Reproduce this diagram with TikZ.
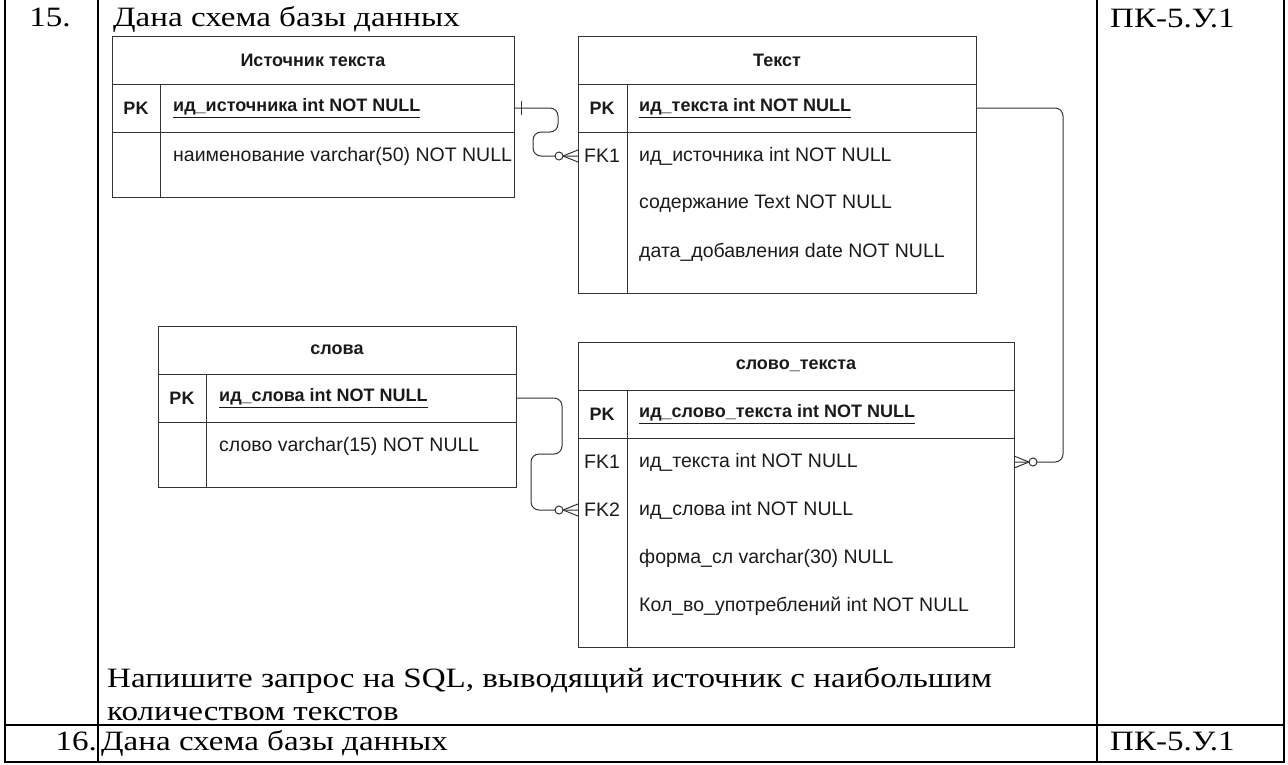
\documentclass[tikz,border=0pt]{standalone}
\usepackage{fontspec}
\setmainfont{Liberation Serif}[FakeStretch=1.18]
\newfontfamily\erfont{Liberation Sans}
\usepackage{xcolor}
\usepackage{tikz}

\definecolor{erline}{HTML}{333333}
\definecolor{ertext}{HTML}{1A1A1A}
\newcommand{\docsize}{\fontsize{28}{33}\selectfont}
\newcommand{\ersize}{\erfont\fontsize{18}{22}\selectfont}
\newcommand{\erfieldsize}{\erfont\fontsize{19.5}{22}\selectfont}

\tikzset{
  erbox/.style={draw=erline, line width=1pt, rectangle, inner sep=0pt, outer sep=0pt},
  erhead/.style={erbox, minimum height=48pt, font=\ersize\bfseries, text=ertext},
  errow/.style={erbox, minimum height=48pt},
  keylbl/.style={font=\ersize\bfseries, text=ertext},
  fklbl/.style={font=\erfieldsize, text=ertext},
  pkfield/.style={anchor=west, inner sep=0pt, font=\ersize\bfseries, text=ertext},
  field/.style={anchor=west, inner sep=0pt, font=\erfieldsize, text=ertext},
  rel/.style={draw=erline, line width=1pt, rounded corners=8pt},
  frame/.style={line width=1.5pt},
  doctext/.style={font=\docsize, inner sep=0pt}
}

\begin{document}
\begin{tikzpicture}[x=1pt, y=-1pt]
\useasboundingbox (0,0) rectangle (1288,764);

% outer table
\draw[frame] (5,0) -- (5,762) -- (1284,762) -- (1284,0);
\draw[frame] (98,0) -- (98,762);
\draw[frame] (1097,0) -- (1097,762);
\draw[frame] (5,725) -- (1284,725);

\node[doctext, anchor=base] (n15) at (50,26) {15.};
\node[doctext, anchor=base west] (task15) at (113,26) {Дана схема базы данных};
\node[doctext, anchor=base west] (code15) at (1110,27) {ПК-5.У.1};
\node[doctext, anchor=base west, align=left] (query) at (107,720)
  {Напишите запрос на SQL, выводящий источник с наибольшим\\количеством текстов};
\node[doctext, anchor=base east] (n16) at (97,750) {16.};
\node[doctext, anchor=base west] (task16) at (101,750) {Дана схема базы данных};
\node[doctext, anchor=base west] (code16) at (1110,750) {ПК-5.У.1};

% Источник текста
\node[erhead, minimum width=402pt] (src-head) at (313,60) {Источник текста};
\node[errow, minimum width=402pt] (src-pk) at (313,108) {};
\node[erbox, minimum width=402pt, minimum height=65pt] (src-body) at (313,164.5) {};
\draw[erline, line width=1pt] ([xshift=48pt]src-pk.north west) -- ([xshift=48pt]src-body.south west);
\node[keylbl] (src-pk-key) at (136,108) {PK};
\node[pkfield] (src-pk-f) at (173,108) {\underline{ид\_источника int NOT NULL}};
\node[field] (src-f1) at (173,156) {наименование varchar(50) NOT NULL};

% Текст
\node[erhead, minimum width=398pt] (txt-head) at (777,60) {Текст};
\node[errow, minimum width=398pt] (txt-pk) at (777,108) {};
\node[erbox, minimum width=398pt, minimum height=161pt] (txt-body) at (777,212.5) {};
\draw[erline, line width=1pt] ([xshift=49pt]txt-pk.north west) -- ([xshift=49pt]txt-body.south west);
\node[keylbl] (txt-pk-key) at (602,108) {PK};
\node[pkfield] (txt-pk-f) at (639,108) {\underline{ид\_текста int NOT NULL}};
\node[fklbl] (txt-fk1-key) at (602,156) {FK1};
\node[field] (txt-f1) at (639,156) {ид\_источника int NOT NULL};
\node[field] (txt-f2) at (639,204) {содержание Text NOT NULL};
\node[field] (txt-f3) at (639,252) {дата\_добавления date NOT NULL};

% слова
\node[erhead, minimum width=358pt] (wrd-head) at (337,350) {слова};
\node[errow, minimum width=358pt] (wrd-pk) at (337,398) {};
\node[erbox, minimum width=358pt, minimum height=65pt] (wrd-body) at (337,454.5) {};
\draw[erline, line width=1pt] ([xshift=48pt]wrd-pk.north west) -- ([xshift=48pt]wrd-body.south west);
\node[keylbl] (wrd-pk-key) at (182,398) {PK};
\node[pkfield] (wrd-pk-f) at (219,398) {\underline{ид\_слова int NOT NULL}};
\node[field] (wrd-f1) at (219,446) {слово varchar(15) NOT NULL};

% слово_текста
\node[erhead, minimum width=436pt] (wt-head) at (796,366) {слово\_текста};
\node[errow, minimum width=436pt] (wt-pk) at (796,414) {};
\node[erbox, minimum width=436pt, minimum height=209pt] (wt-body) at (796,542.5) {};
\draw[erline, line width=1pt] ([xshift=49pt]wt-pk.north west) -- ([xshift=49pt]wt-body.south west);
\node[keylbl] (wt-pk-key) at (602,414) {PK};
\node[pkfield] (wt-pk-f) at (639,414) {\underline{ид\_слово\_текста int NOT NULL}};
\node[fklbl] (wt-fk1-key) at (602,462) {FK1};
\node[fklbl] (wt-fk2-key) at (602,510) {FK2};
\node[field] (wt-f1) at (639,462) {ид\_текста int NOT NULL};
\node[field] (wt-f2) at (639,510) {ид\_слова int NOT NULL};
\node[field] (wt-f3) at (639,558) {форма\_сл varchar(30) NULL};
\node[field] (wt-f4) at (639,606) {Кол\_во\_употреблений int NOT NULL};

% relationship ends
\coordinate (txt-fk1-in) at (txt-body.west |- txt-f1);
\coordinate (wt-fk2-in) at (wt-body.west |- wt-f2);
\coordinate (wt-fk1-in) at (wt-body.east |- wt-f1);

% relationships
\draw[rel] (src-pk.east) -- ++(44,0) -- ++(0,24) -- ++(-25,0) |- (txt-fk1-in);
\draw[rel] (wrd-pk.east) -- ++(46,0) -- ++(0,56) -- ++(-31,0) |- (wt-fk2-in);
\draw[rel] (txt-pk.east) -- ++(87,0) |- (wt-fk1-in);

% one
\draw[erline, line width=1pt] ([xshift=7pt,yshift=-7pt]src-pk.east) -- ([xshift=7pt,yshift=7pt]src-pk.east);

% zero or many
\draw[erline, line width=1pt] ([xshift=-15pt]txt-fk1-in) -- ([yshift=6pt]txt-fk1-in)
  ([xshift=-15pt]txt-fk1-in) -- ([yshift=-6pt]txt-fk1-in);
\draw[erline, line width=1pt, fill=white] ([xshift=-19pt]txt-fk1-in) circle[radius=4pt];
\draw[erline, line width=1pt] ([xshift=-15pt]wt-fk2-in) -- ([yshift=6pt]wt-fk2-in)
  ([xshift=-15pt]wt-fk2-in) -- ([yshift=-6pt]wt-fk2-in);
\draw[erline, line width=1pt, fill=white] ([xshift=-19pt]wt-fk2-in) circle[radius=4pt];
\draw[erline, line width=1pt] ([xshift=15pt]wt-fk1-in) -- ([yshift=6pt]wt-fk1-in)
  ([xshift=15pt]wt-fk1-in) -- ([yshift=-6pt]wt-fk1-in);
\draw[erline, line width=1pt, fill=white] ([xshift=19pt]wt-fk1-in) circle[radius=4pt];

\end{tikzpicture}
\end{document}
